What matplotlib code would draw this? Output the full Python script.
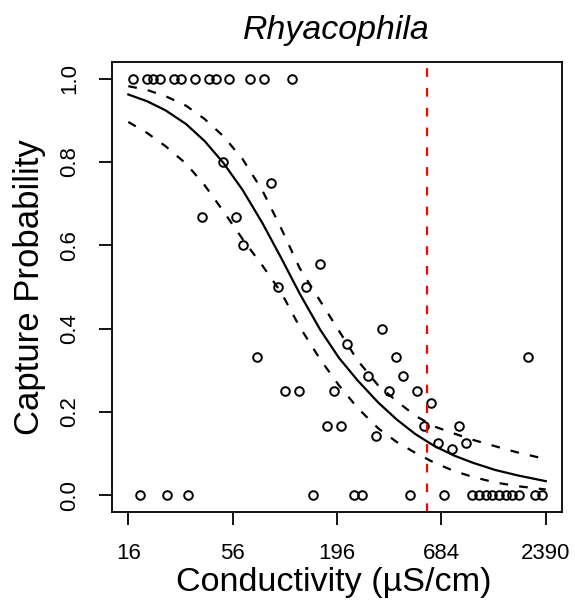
import matplotlib
matplotlib.use("Agg")
import matplotlib.pyplot as plt

plt.rcParams['font.family'] = ['Liberation Sans', 'DejaVu Sans']

# observed capture proportions per site
cond_obs = [16.9, 20.1, 21.6, 23.4, 27.7, 30.0, 35.6, 42.1, 45.8, 53.5, 68.9, 81.5, 113.6,
            49.6, 88.6, 38.6, 58.2, 63.6, 159.5, 96.0, 134.8, 336.8, 219.7, 75.2, 396.8,
            1933, 284.7, 433, 104.8, 124, 188.7, 366.3, 512.5, 604, 172.8, 204.4, 555,
            841.6, 312.2, 654.5, 913, 774,
            18.3, 25.5, 32.6, 146.1, 240.7, 263, 469.5, 708, 984, 1074, 1164, 1260,
            1365, 1479, 1601, 1736, 2102, 2278]
prob_obs = [1, 1, 1, 1, 1, 1, 1, 1, 1, 1, 1, 1, 1,
            0.8, 0.75, 0.667, 0.667, 0.6, 0.556, 0.5, 0.5, 0.4, 0.364, 0.333, 0.333,
            0.333, 0.286, 0.286, 0.25, 0.25, 0.25, 0.25, 0.25, 0.222, 0.167, 0.167, 0.167,
            0.167, 0.143, 0.125, 0.125, 0.111,
            0, 0, 0, 0, 0, 0, 0, 0, 0, 0, 0, 0,
            0, 0, 0, 0, 0, 0]

# fitted curve and confidence band
cond_fit = [16, 20, 25, 32, 40, 50, 63, 80, 100, 125, 160, 200, 250, 320, 400, 500,
            630, 800, 1000, 1300, 1700, 2390]
prob_fit = [0.962, 0.946, 0.924, 0.891, 0.850, 0.798, 0.733, 0.653, 0.570, 0.484, 0.397,
            0.330, 0.276, 0.223, 0.182, 0.147, 0.118, 0.095, 0.078, 0.061, 0.048, 0.034]
prob_upr = [0.982, 0.973, 0.958, 0.935, 0.903, 0.862, 0.807, 0.731, 0.641, 0.545, 0.466,
            0.395, 0.324, 0.264, 0.226, 0.191, 0.165, 0.148, 0.133, 0.118, 0.103, 0.087]
prob_lwr = [0.896, 0.870, 0.838, 0.796, 0.744, 0.682, 0.615, 0.551, 0.487, 0.404, 0.326,
            0.264, 0.210, 0.161, 0.128, 0.102, 0.078, 0.058, 0.044, 0.031, 0.022, 0.014]

threshold = 574
xticks = [16, 56, 196, 684, 2390]
yticks = [0.0, 0.2, 0.4, 0.6, 0.8, 1.0]

fig = plt.figure(figsize=(5.75, 6.08), dpi=100)
ax = fig.add_axes([111.7/575, 1 - 512/608, 450/575, 450/608])

ax.plot(cond_obs, prob_obs, 'o', mfc='none', mec='black', ms=6.2, mew=1.4)
ax.plot(cond_fit, prob_fit, '-', color='black', lw=1.6)
ax.plot(cond_fit, prob_upr, color='black', lw=1.6, linestyle=(0, (3.9, 5.0)))
ax.plot(cond_fit, prob_lwr, color='black', lw=1.6, linestyle=(0, (3.9, 5.0)))
ax.axvline(threshold, color='red', lw=1.6, linestyle=(0, (3.9, 5.0)))

ax.set_xscale('log')
ax.set_xlim(13.11, 2893)
ax.set_ylim(-0.04, 1.04)
ax.minorticks_off()
ax.set_xticks(xticks)
ax.set_xticklabels([str(t) for t in xticks])
ax.set_yticks(yticks)
ax.set_yticklabels([f"{t:.1f}" for t in yticks], rotation=90, va='center')
ax.tick_params(length=9.4, width=1.3, labelsize=16, pad=13)
for s in ax.spines.values():
    s.set_linewidth(1.3)

fig.text(336.7/575, 1 - 39/608, 'Rhyacophila', style='italic', fontsize=24.4,
         ha='center', va='baseline')
fig.text(334/575, 1 - 591/608, 'Conductivity (\u00b5S/cm)', fontsize=24.6,
         ha='center', va='baseline')
fig.text(30/575, 1 - 287/608, 'Capture Probability', fontsize=25, rotation=90,
         ha='center', va='center')

fig.savefig('out.png', dpi=100)
